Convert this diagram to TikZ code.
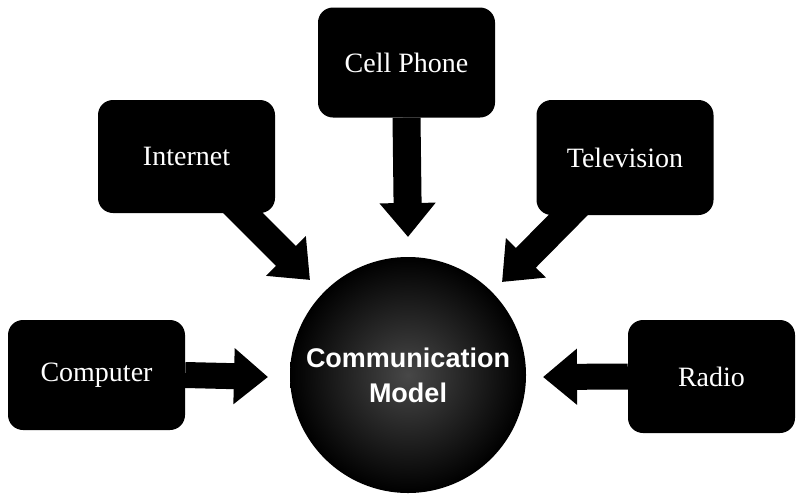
\documentclass[tikz,border=0pt]{standalone}
\usepackage{fontspec}
\setmainfont{Liberation Serif}
\newfontfamily\labelsans{Liberation Sans}
\usetikzlibrary{arrows.meta,backgrounds}
\begin{document}
\begin{tikzpicture}[x=1pt,y=-1pt,
  mediabox/.style={fill=black,rounded corners=15pt,minimum width=177pt,minimum height=110pt,
    text=white,font=\fontsize{28}{30}\selectfont,inner sep=0pt},
  feed/.style={line width=28pt,draw=black,-{Triangle[width=54pt,length=34pt]}},
  hub/.style={circle,minimum size=236pt,inner sep=0pt,inner color=black!72,outer color=black,
    text=white,font=\labelsans\bfseries\fontsize{27}{35}\selectfont,align=center}]
\useasboundingbox (0,0) rectangle (800,496);

\node[hub] (model) at (408,375) {Communication\\Model};

\node[mediabox] (cell) at (406.5,62.5) {Cell Phone};
\node[mediabox,minimum height=113pt] (internet) at (186.5,156.5) {Internet};
\node[mediabox,minimum height=115pt] (tv) at (625,157.5) {Television};
\node[mediabox] (computer) at (96.5,375) {Computer};
\node[mediabox,minimum width=167pt,minimum height=113pt] (radio) at (711.5,376.5) {Radio};

\coordinate (tcell) at (408,237);
\coordinate (tinternet) at (310,280);
\coordinate (ttv) at (502,282);
\coordinate (tcomputer) at (268,377);
\coordinate (tradio) at (543,377);

\begin{scope}[on background layer]
\fill[white] (0,0) rectangle (800,496);
\draw[feed] (cell.south) -- (tcell);
\draw[feed] (internet.center) -- (tinternet);
\draw[feed] (tv.center) -- (ttv);
\draw[feed,line width=26pt] (computer.east) -- (tcomputer);
\draw[feed,line width=26pt] (radio.west) -- (tradio);
\end{scope}
\end{tikzpicture}
\end{document}
